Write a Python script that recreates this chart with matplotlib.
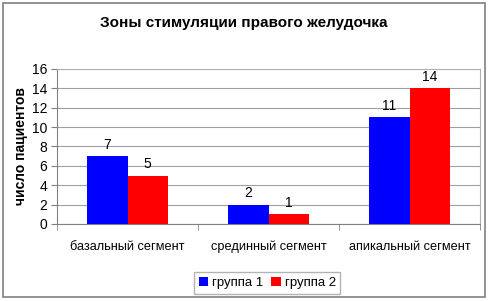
import numpy as np
import matplotlib.pyplot as plt
from matplotlib.patches import Rectangle

plt.rcParams['font.family'] = ['Liberation Sans', 'DejaVu Sans']

categories = ['базальный сегмент', 'срединный сегмент', 'апикальный сегмент']
group1 = [7, 2, 11]
group2 = [5, 1, 14]
series_names = ['группа 1', 'группа 2']
yticks = [0, 2, 4, 6, 8, 10, 12, 14, 16]

fig = plt.figure(figsize=(4.88, 3.01), dpi=100)
ax = fig.add_axes([0.117, 0.256, 0.867, 0.515])

x = np.arange(len(categories))
w = 0.285
b1 = ax.bar(x - w / 2, group1, w, color='#0000ff', label=series_names[0], zorder=3)
b2 = ax.bar(x + w / 2, group2, w, color='#ff0000', label=series_names[1], zorder=3)
for bars in (b1, b2):
    ax.bar_label(bars, padding=3, fontsize=10)

ax.set_xlim(-0.5, 2.5)
ax.set_ylim(0, 16)
ax.set_yticks(yticks)
ax.yaxis.grid(True, color='#a0a0a0', linewidth=0.8, zorder=0)
ax.set_xticks(x)
ax.set_xticklabels(categories, fontsize=9.2)
ax.tick_params(axis='x', length=0, pad=12)
ax.set_xticks([-0.5, 0.5, 1.5, 2.5], minor=True)
ax.tick_params(axis='x', which='minor', length=4, color='#808080')
ax.tick_params(axis='y', labelsize=10, length=4, color='#808080', pad=3)
for s in ax.spines.values():
    s.set_color('#b0b0b0')
    s.set_linewidth(0.8)
ax.spines['bottom'].set_color('#808080')
ax.spines['left'].set_color('#808080')

ax.set_ylabel('число пациентов', fontsize=10, fontweight='bold', labelpad=3)
fig.text(0.5, 0.925, 'Зоны стимуляции правого желудочка', ha='center', va='center',
         fontsize=11, fontweight='bold')

leg = fig.legend(loc='center', bbox_to_anchor=(0.548, 0.06), ncol=2, fontsize=9.5,
                 frameon=True, fancybox=False, edgecolor='#a0a0a0', handlelength=0.7,
                 handleheight=0.7, handletextpad=0.3, columnspacing=0.6, borderpad=0.35)

fig.patches.append(Rectangle((0.006, 0.012), 0.988, 0.978, transform=fig.transFigure,
                             fill=False, edgecolor='#808080', linewidth=1.2))

fig.savefig('out.png', dpi=100)
